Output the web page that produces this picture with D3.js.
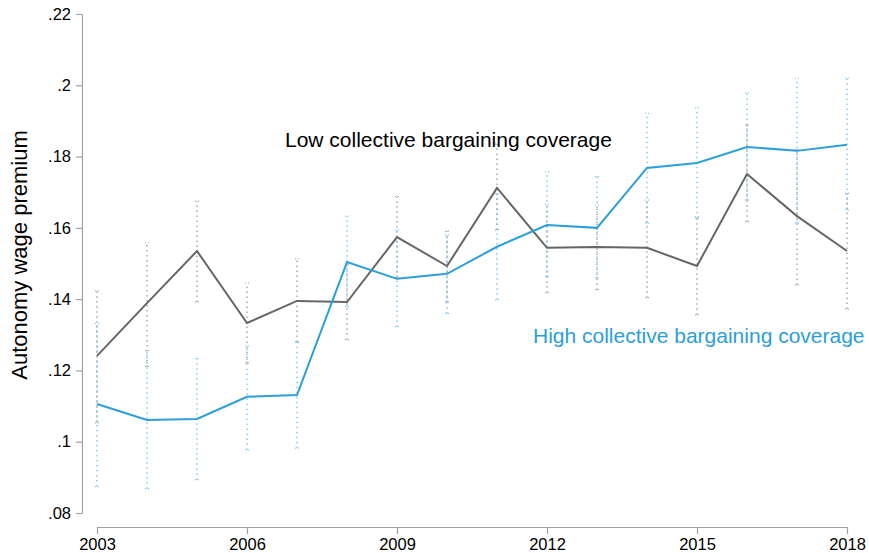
<!DOCTYPE html>
<html lang="en">
<head>
    <meta charset="UTF-8">
    <title>Autonomy wage premium by collective bargaining coverage</title>
    <script src="https://d3js.org/d3.v7.min.js"></script>
    <style>
        body {
            margin: 0;
            background: #fff;
            font-family: "Liberation Sans", Arial, sans-serif;
        }
        .axis path, .axis line {
            stroke: #a0a0a0;
            stroke-width: 1.2px;
        }
        .axis text {
            font-size: 16.5px;
            fill: #000;
        }
    </style>
</head>
<body>
<svg width="869" height="553"></svg>
<script>
    // data
    const years = [2003, 2004, 2005, 2006, 2007, 2008, 2009, 2010, 2011, 2012, 2013, 2014, 2015, 2016, 2017, 2018];

    const lowEst = [0.1241, 0.1389, 0.1535, 0.1333, 0.1395, 0.1392, 0.1574, 0.1493, 0.1712, 0.1544, 0.1546, 0.1544, 0.1493, 0.1751, 0.1633, 0.1535];
    const lowLo  = [0.1053, 0.1211, 0.1392, 0.1221, 0.1280, 0.1286, 0.1460, 0.1392, 0.1594, 0.1418, 0.1426, 0.1404, 0.1356, 0.1617, 0.1440, 0.1372];
    const lowHi  = [0.1423, 0.1558, 0.1675, 0.1445, 0.1513, 0.1498, 0.1688, 0.1591, 0.1835, 0.1667, 0.1664, 0.1678, 0.1631, 0.1889, 0.1820, 0.1697];

    const highEst = [0.1106, 0.1061, 0.1064, 0.1126, 0.1131, 0.1504, 0.1457, 0.1471, 0.1547, 0.1608, 0.1600, 0.1768, 0.1782, 0.1827, 0.1816, 0.1833];
    const highLo  = [0.0874, 0.0868, 0.0893, 0.0977, 0.0982, 0.1379, 0.1322, 0.1360, 0.1398, 0.1463, 0.1459, 0.1613, 0.1627, 0.1678, 0.1613, 0.1650];
    const highHi  = [0.1332, 0.1256, 0.1234, 0.1269, 0.1281, 0.1633, 0.1594, 0.1580, 0.1696, 0.1757, 0.1744, 0.1921, 0.1937, 0.1979, 0.2020, 0.2020];

    const yTicks = [0.08, 0.10, 0.12, 0.14, 0.16, 0.18, 0.20, 0.22];
    const xTicks = [2003, 2006, 2009, 2012, 2015, 2018];

    const svg = d3.select("svg");

    const x = d3.scaleLinear().domain([2003, 2018]).range([97, 847]);
    const y = d3.scaleLinear().domain([0.08, 0.22]).range([513, 14]);

    const fmt = d => d3.format(".2~f")(d).replace(/^0/, "");

    // y axis
    svg.append("g")
        .attr("class", "axis")
        .attr("transform", "translate(82,0)")
        .call(d3.axisLeft(y).tickValues(yTicks).tickFormat(fmt).tickSize(6).tickSizeOuter(0).tickPadding(5));

    // x axis
    svg.append("g")
        .attr("class", "axis")
        .attr("transform", "translate(0,527)")
        .call(d3.axisBottom(x).tickValues(xTicks).tickFormat(d3.format("d")).tickSize(7).tickSizeOuter(0).tickPadding(4));

    svg.append("text")
        .attr("transform", "translate(27,255) rotate(-90)")
        .attr("text-anchor", "middle")
        .attr("font-size", "22px")
        .attr("fill", "#000")
        .text("Autonomy wage premium");

    const series = [
        {est: lowEst, lo: lowLo, hi: lowHi, line: "#666666", bar: "#9a9a9a"},
        {est: highEst, lo: highLo, hi: highHi, line: "#2b9fd9", bar: "#6cc0ea"}
    ];

    // confidence intervals (dotted, small caps)
    series.forEach(s => {
        const g = svg.append("g");
        years.forEach((yr, i) => {
            g.append("line")
                .attr("x1", x(yr)).attr("x2", x(yr))
                .attr("y1", y(s.lo[i])).attr("y2", y(s.hi[i]))
                .attr("stroke", s.bar)
                .attr("stroke-width", 1.3)
                .attr("stroke-dasharray", "1.5,3.5");
            [s.lo[i], s.hi[i]].forEach(v => {
                g.append("line")
                    .attr("x1", x(yr) - 2).attr("x2", x(yr) + 2)
                    .attr("y1", y(v)).attr("y2", y(v))
                    .attr("stroke", s.bar)
                    .attr("stroke-width", 1)
                    .attr("stroke-dasharray", "1,2");
            });
        });
    });

    const line = arr => d3.line()
        .x((d, i) => x(years[i]))
        .y(d => y(d))(arr);

    series.forEach(s => {
        svg.append("path")
            .attr("d", line(s.est))
            .attr("fill", "none")
            .attr("stroke", s.line)
            .attr("stroke-width", 2);
    });

    svg.append("text")
        .attr("x", 285).attr("y", 147)
        .attr("font-size", "21px")
        .attr("fill", "#000")
        .text("Low collective bargaining coverage");

    svg.append("text")
        .attr("x", 533).attr("y", 343)
        .attr("font-size", "21px")
        .attr("fill", "#2b9fd9")
        .text("High collective bargaining coverage");
</script>
</body>
</html>
